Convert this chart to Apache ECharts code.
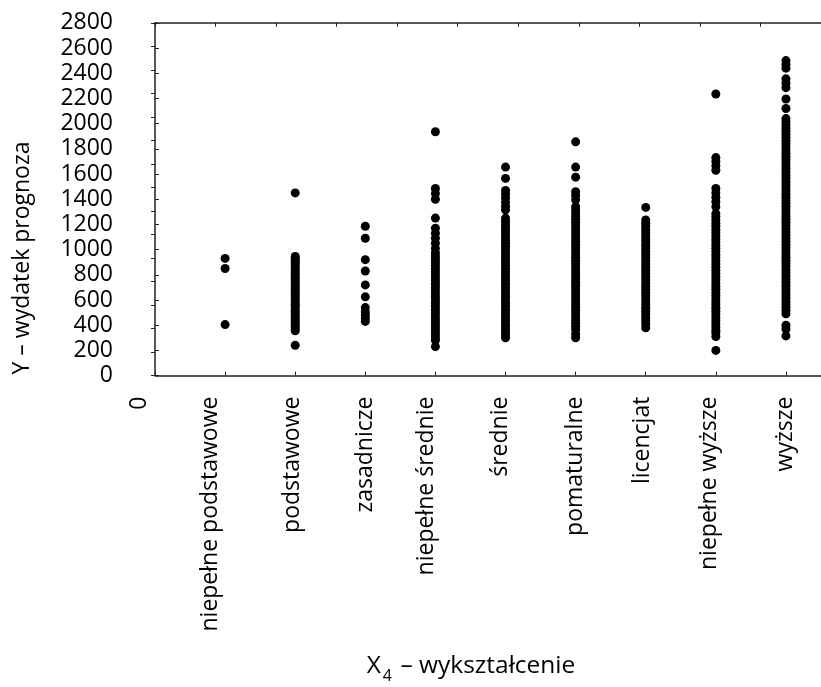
<!DOCTYPE html>
<html>
<head>
<meta charset="utf-8">
<script src="https://cdn.jsdelivr.net/npm/echarts@6/dist/echarts.min.js"></script>
<style>html,body{margin:0;padding:0;background:#fff;}#c{width:821px;height:687px;}</style>
</head>
<body>
<div id="c"></div>
<script>
const categories = ['niepełne podstawowe','podstawowe','zasadnicze','niepełne średnie','średnie','pomaturalne','licencjat','niepełne wyższe','wyższe'];
const zeroLabel = '0';
const yTicks = [0,200,400,600,800,1000,1200,1400,1600,1800,2000,2200,2400,2600,2800];
const yTitle = 'Y – wydatek prognoza';
const xTitleMain = 'X';
const xTitleSub = '4';
const xTitleRest = ' – wykształcenie';

const vNiepPodst = [930, 850, 405];
const vPodst = [1450, 945, 930, 915, 900, 885, 870, 850, 835, 815, 800, 780, 765, 745, 730, 710, 690, 675, 655, 640, 620, 600, 585, 565, 550, 530, 510, 495, 475, 460, 440, 420, 405, 390, 370, 355, 240];
const vZasad = [1185, 1090, 920, 830, 720, 625, 540, 505, 480, 455, 430];
const vNiepSred = [1935, 1485, 1445, 1400, 1250, 1170, 1130, 1090, 1050, 1010, 975, 950, 925, 900, 875, 850, 825, 800, 775, 750, 725, 700, 675, 650, 625, 600, 575, 550, 525, 500, 475, 450, 425, 400, 375, 350, 325, 300, 280, 230];
const vSred = [1655, 1565, 1470, 1440, 1410, 1375, 1345, 1315, 1250, 1225, 1200, 1175, 1150, 1125, 1100, 1075, 1050, 1025, 1000, 975, 950, 925, 900, 875, 850, 825, 800, 775, 750, 725, 700, 675, 650, 625, 600, 575, 550, 525, 500, 475, 450, 425, 400, 375, 350, 325, 300];
const vPomat = [1855, 1655, 1575, 1460, 1430, 1395, 1340, 1315, 1290, 1265, 1240, 1215, 1190, 1165, 1140, 1115, 1090, 1065, 1040, 1015, 990, 965, 940, 915, 890, 865, 840, 815, 790, 765, 740, 715, 690, 665, 640, 615, 590, 565, 540, 515, 490, 465, 440, 415, 390, 365, 330, 300];
const vLicen = [1335, 1235, 1210, 1185, 1160, 1135, 1110, 1085, 1060, 1035, 1010, 985, 960, 935, 910, 885, 860, 835, 810, 785, 760, 735, 710, 685, 660, 635, 610, 585, 560, 535, 510, 485, 460, 435, 410, 380];
const vNiepWyz = [2235, 1730, 1700, 1665, 1630, 1485, 1450, 1415, 1380, 1340, 1285, 1260, 1235, 1210, 1185, 1160, 1135, 1110, 1085, 1060, 1035, 1010, 985, 960, 935, 910, 885, 860, 835, 810, 785, 760, 735, 710, 685, 660, 635, 610, 585, 560, 535, 510, 485, 460, 435, 410, 385, 360, 340, 310, 200];
const vWyz = [2500, 2470, 2440, 2355, 2320, 2285, 2195, 2120, 2040, 2015, 1990, 1965, 1940, 1915, 1890, 1865, 1840, 1815, 1790, 1765, 1740, 1715, 1690, 1665, 1640, 1615, 1590, 1565, 1540, 1515, 1490, 1465, 1440, 1415, 1390, 1365, 1340, 1315, 1290, 1265, 1240, 1215, 1190, 1165, 1140, 1115, 1090, 1065, 1040, 1015, 990, 965, 940, 915, 890, 865, 840, 815, 790, 765, 740, 715, 690, 665, 640, 615, 590, 565, 540, 515, 490, 400, 370, 315];

const columns = [vNiepPodst, vPodst, vZasad, vNiepSred, vSred, vPomat, vLicen, vNiepWyz, vWyz];

// styling: leftward shift (px) of each rotated x label, index 0 = "0"
const labelShift = [16, 15, 3, 0, 9, 5, 0, 3, 6, 0];

const FONT = '"Open Sans", "Noto Sans", sans-serif';
const points = [];
columns.forEach((col, i) => col.forEach(v => points.push([i + 1, v])));

const rich = {};
labelShift.forEach((s, i) => {
  rich['s' + i] = { fontFamily: FONT, fontSize: 23, color: '#000', padding: [0, 0, 2 * s, 0] };
});

const chart = echarts.init(document.getElementById('c'), null, { renderer: 'canvas' });
chart.setOption({
  animation: false,
  backgroundColor: '#fff',
  grid: { left: 155, top: 22.8, right: -2, bottom: 311.4, containLabel: false },
  xAxis: [
    {
      type: 'value', position: 'bottom', min: 0, max: 9.5, interval: 1,
      axisLine: { show: true, onZero: false, lineStyle: { color: '#222', width: 1.5 } },
      axisTick: { show: true, inside: true, length: 4, lineStyle: { color: '#222' } },
      splitLine: { show: false },
      axisLabel: {
        show: true, rotate: 90, margin: 21, color: '#000', fontFamily: FONT, fontSize: 23,
        showMaxLabel: false,
        formatter: function (v) {
          if (Math.abs(v - Math.round(v)) > 1e-6) return '';
          const i = Math.round(v);
          const txt = i === 0 ? zeroLabel : categories[i - 1];
          if (txt === undefined) return '';
          return '{s' + i + '|' + txt + '}';
        },
        rich: rich
      }
    },
    {
      type: 'value', position: 'top', min: 0, max: 11, interval: 1,
      axisLine: { show: true, onZero: false, lineStyle: { color: '#222', width: 1.5 } },
      axisTick: { show: true, inside: true, length: 4, lineStyle: { color: '#222' } },
      axisLabel: { show: false }, splitLine: { show: false }
    }
  ],
  yAxis: [
    {
      type: 'value', min: yTicks[0], max: yTicks[yTicks.length - 1], interval: 200, position: 'left',
      axisLine: { show: true, onZero: false, lineStyle: { color: '#222', width: 1.5 } },
      axisTick: { show: true, inside: true, length: 4, lineStyle: { color: '#222' } },
      splitLine: { show: false },
      axisLabel: { margin: 42, color: '#000', fontFamily: FONT, fontSize: 23, formatter: v => String(v) }
    },
    {
      type: 'value', min: 0, max: 15, interval: 1, position: 'right',
      axisLine: { show: false },
      axisTick: { show: true, inside: true, length: 4, lineStyle: { color: '#222' } },
      axisLabel: { show: false }, splitLine: { show: false }
    }
  ],
  graphic: [
    {
      type: 'text', x: 22, y: 258, rotation: Math.PI / 2,
      style: { text: yTitle, fontFamily: FONT, fontSize: 23, fill: '#000', textAlign: 'center', textVerticalAlign: 'middle' }
    },
    {
      type: 'text', x: 471, y: 669,
      style: {
        text: '{m|' + xTitleMain + '}{sub|' + xTitleSub + '}{m|' + xTitleRest + '}',
        textAlign: 'center', textVerticalAlign: 'middle',
        rich: {
          m: { fontFamily: FONT, fontSize: 24.5, fill: '#000', color: '#000', verticalAlign: 'top', lineHeight: 30 },
          sub: { fontFamily: FONT, fontSize: 16, fill: '#000', color: '#000', verticalAlign: 'bottom', lineHeight: 14, padding: [0, 2, 0, 2] }
        }
      }
    }
  ],
  series: [{
    type: 'scatter', xAxisIndex: 0, yAxisIndex: 0,
    symbol: 'circle', symbolSize: 9,
    itemStyle: { color: '#000', opacity: 1 },
    data: points
  }]
});
</script>
</body>
</html>
